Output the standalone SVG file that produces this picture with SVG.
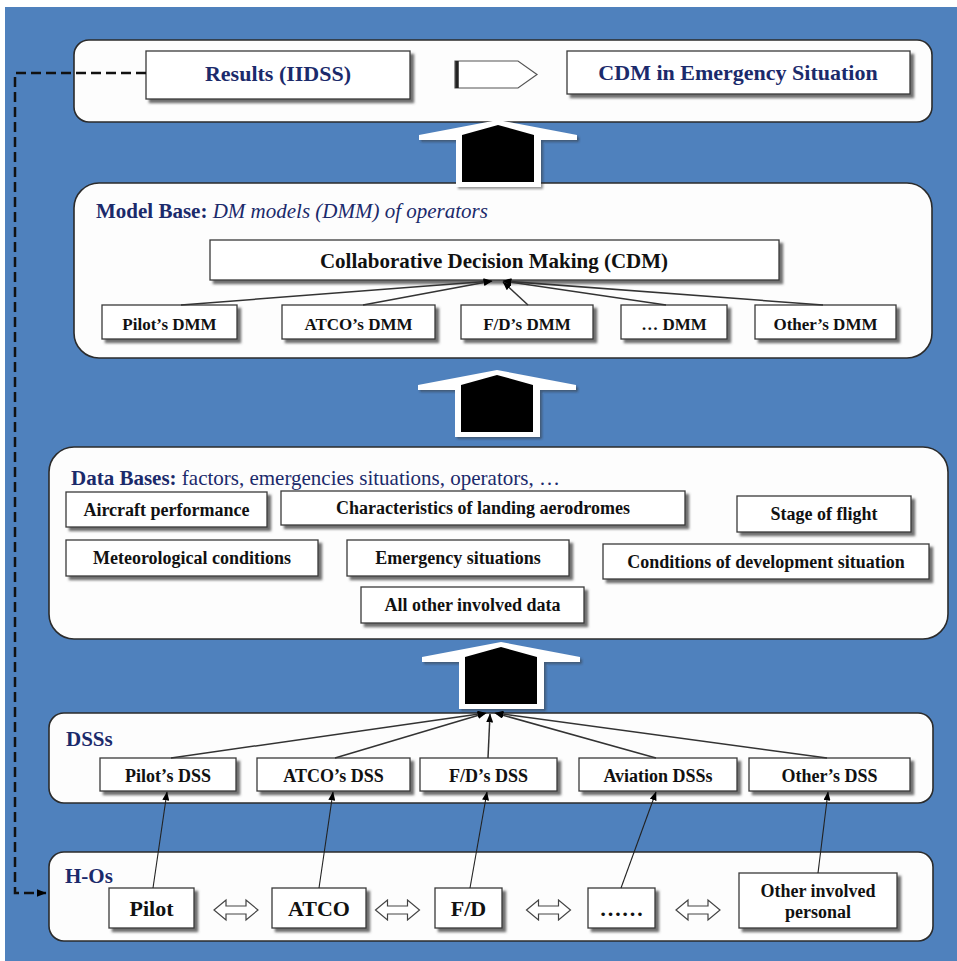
<svg xmlns="http://www.w3.org/2000/svg" width="957" height="961" viewBox="0 0 957 961">
<defs>
<style>
.cont{fill:#fdfdfd;stroke:#2b2b2b;stroke-width:1.6}
.box{fill:#fff;stroke:#3a3a3a;stroke-width:1.3;filter:url(#sh)}
.t{font-family:"Liberation Serif","Times New Roman",serif;font-weight:bold;fill:#111;text-anchor:middle}
.s17{font-size:17px}.s18{font-size:18px}.s21{font-size:21px}.s22{font-size:22px}
.navy{fill:#1b2a6b}
.hd{font-family:"Liberation Serif","Times New Roman",serif;font-size:21px;fill:#1b2a6b}
.ln{fill:none;stroke:#333;stroke-width:1.5}
.lt{fill:none;stroke:#222;stroke-width:1.1}
.dbl{fill:#fff;stroke:#444;stroke-width:1.2}
</style>
<filter id="sh" x="-10%" y="-20%" width="130%" height="160%">
<feDropShadow dx="3.5" dy="3.5" stdDeviation="0.8" flood-color="#555" flood-opacity="0.85"/>
</filter>
<filter id="ash" x="-10%" y="-10%" width="130%" height="130%">
<feDropShadow dx="2" dy="2" stdDeviation="1" flood-color="#333" flood-opacity="0.5"/>
</filter>
<marker id="ah" viewBox="0 0 10 8" refX="9.5" refY="4" markerWidth="9" markerHeight="7" markerUnits="userSpaceOnUse" orient="auto">
<path d="M0,0 L10,4 L0,8 z" fill="#000"/>
</marker>
<marker id="ahd" viewBox="0 0 10 8" refX="9.5" refY="4" markerWidth="10" markerHeight="8" markerUnits="userSpaceOnUse" orient="auto">
<path d="M0,0 L10,4 L0,8 z" fill="#000"/>
</marker>
<g id="bigarrow">
<polygon points="0,0 79,15 79,20 43,20 43,67 -42,67 -42,20 -79,20 -79,15" fill="#fff" filter="url(#ash)"/>
<polygon points="0,5 36,15 36,62 -36,62 -36,15" fill="#000"/>
</g>
<polygon id="dbl" class="dbl" points="0,0 12,-10 12,-4 32,-4 32,-10 44,0 32,10 32,4 12,4 12,10"/>
</defs>

<rect x="0" y="0" width="957" height="961" fill="#fff"/>
<rect x="5" y="7" width="952" height="954" fill="#4F81BD"/>

<!-- containers -->
<g id="top">
<rect class="cont" x="74" y="40" width="858" height="82" rx="15"/>
</g>
<g id="results">
<rect class="box" x="146" y="51" width="264" height="48"/>
<text class="t s22 navy" x="278" y="81">Results (IIDSS)</text>
</g>
<g id="pentagon">
<polygon points="455,61 518,61 537,74.5 518,88 455,88" fill="#fff" stroke="#555" stroke-width="1.2"/>
<line x1="457" y1="61" x2="457" y2="88" stroke="#222" stroke-width="3.5"/>
</g>
<g id="cdm-emergency">
<rect class="box" x="567" y="51" width="343" height="43"/>
<text class="t s22 navy" x="738" y="80">CDM in Emergency Situation</text>
</g>

<g id="modelbase">
<rect class="cont" x="74" y="183" width="858" height="175" rx="25"/>
<text class="hd" x="96" y="218"><tspan font-weight="bold">Model Base: </tspan><tspan font-style="italic">DM models (DMM) of operators</tspan></text>
</g>
<g id="cdm">
<rect class="box" x="210" y="240" width="569" height="40"/>
<text class="t s21" x="494" y="268">Collaborative Decision Making (CDM)</text>
</g>
<g id="dmm-pilot"><rect class="box" x="102" y="305" width="135" height="34"/><text class="t s17" x="169.5" y="330">Pilot’s DMM</text></g>
<g id="dmm-atco"><rect class="box" x="282" y="305" width="153" height="34"/><text class="t s17" x="358.5" y="330">ATCO’s DMM</text></g>
<g id="dmm-fd"><rect class="box" x="461" y="305" width="132" height="34"/><text class="t s17" x="527" y="330">F/D’s DMM</text></g>
<g id="dmm-etc"><rect class="box" x="621" y="305" width="106" height="34"/><text class="t s17" x="674" y="330">… DMM</text></g>
<g id="dmm-other"><rect class="box" x="755" y="305" width="141" height="34"/><text class="t s17" x="825.5" y="330">Other’s DMM</text></g>

<g id="databases">
<rect class="cont" x="49" y="447" width="899" height="192" rx="25"/>
<text class="hd" x="71" y="485"><tspan font-weight="bold">Data Bases: </tspan>factors, emergencies situations, operators, …</text>
</g>
<g id="db-aircraft"><rect class="box" x="66" y="492" width="201" height="35"/><text class="t s18" x="166.5" y="516">Aircraft performance</text></g>
<g id="db-aerodromes"><rect class="box" x="281" y="491" width="404" height="34"/><text class="t s18" x="483" y="514">Characteristics of landing aerodromes</text></g>
<g id="db-stage"><rect class="box" x="737" y="496" width="174" height="36"/><text class="t s18" x="824" y="520">Stage of flight</text></g>
<g id="db-meteo"><rect class="box" x="66" y="540" width="252" height="36"/><text class="t s18" x="192" y="564">Meteorological conditions</text></g>
<g id="db-emergency"><rect class="box" x="347" y="540" width="222" height="36"/><text class="t s18" x="458" y="564">Emergency situations</text></g>
<g id="db-conditions"><rect class="box" x="603" y="544" width="326" height="35"/><text class="t s18" x="766" y="568">Conditions of development situation</text></g>
<g id="db-other"><rect class="box" x="361" y="587" width="223" height="36"/><text class="t s18" x="472.5" y="611">All other involved data</text></g>

<g id="dsss">
<rect class="cont" x="49" y="713" width="884" height="90" rx="15"/>
<text class="hd" x="66" y="746" font-weight="bold">DSSs</text>
</g>
<g id="dss-pilot"><rect class="box" x="100" y="758" width="136" height="33"/><text class="t s18" x="168" y="782">Pilot’s DSS</text></g>
<g id="dss-atco"><rect class="box" x="257" y="758" width="153" height="33"/><text class="t s18" x="333.5" y="782">ATCO’s DSS</text></g>
<g id="dss-fd"><rect class="box" x="420" y="758" width="137" height="33"/><text class="t s18" x="488.5" y="782">F/D’s DSS</text></g>
<g id="dss-aviation"><rect class="box" x="579" y="758" width="158" height="33"/><text class="t s18" x="658" y="782">Aviation DSSs</text></g>
<g id="dss-other"><rect class="box" x="749" y="758" width="161" height="33"/><text class="t s18" x="829.5" y="782">Other’s DSS</text></g>

<g id="hos">
<rect class="cont" x="49" y="852" width="884" height="89" rx="15"/>
<text class="hd" x="65" y="883" font-weight="bold">H-Os</text>
</g>
<g id="ho-pilot"><rect class="box" x="109" y="888" width="85" height="40"/><text class="t s22" x="151.5" y="916">Pilot</text></g>
<g id="ho-atco"><rect class="box" x="272" y="888" width="94" height="40"/><text class="t s22" x="319" y="916">ATCO</text></g>
<g id="ho-fd"><rect class="box" x="435" y="888" width="67" height="40"/><text class="t s22" x="468.5" y="916">F/D</text></g>
<g id="ho-etc"><rect class="box" x="588" y="888" width="67" height="40"/><text class="t s22" x="621.5" y="916">……</text></g>
<g id="ho-other"><rect class="box" x="739" y="873" width="158" height="55"/><text class="t s18" x="818" y="897">Other involved</text><text class="t s18" x="818" y="918">personal</text></g>

<!-- connectors -->
<g id="connectors">
<use href="#bigarrow" x="498" y="120"/>
<use href="#bigarrow" x="497" y="370"/>
<use href="#bigarrow" x="501" y="642"/>

<path d="M146,73 H15 V893 H46" fill="none" stroke="#111" stroke-width="2.5" stroke-dasharray="10,5" marker-end="url(#ahd)"/>

<line class="ln" x1="181" y1="305" x2="492" y2="281" marker-end="url(#ah)"/>
<line class="ln" x1="363" y1="305" x2="492" y2="281" marker-end="url(#ah)"/>
<line class="ln" x1="528" y1="305" x2="503" y2="282" marker-end="url(#ah)"/>
<line class="ln" x1="666" y1="305" x2="503" y2="281" marker-end="url(#ah)"/>
<line class="ln" x1="823" y1="305" x2="503" y2="281" marker-end="url(#ah)"/>

<line class="ln" x1="171" y1="758" x2="486" y2="713" marker-end="url(#ah)"/>
<line class="ln" x1="335" y1="758" x2="486" y2="713" marker-end="url(#ah)"/>
<line class="ln" x1="488" y1="758" x2="490" y2="714" marker-end="url(#ah)"/>
<line class="ln" x1="656" y1="758" x2="495" y2="713" marker-end="url(#ah)"/>
<line class="ln" x1="827" y1="758" x2="495" y2="713" marker-end="url(#ah)"/>

<line class="lt" x1="153" y1="888" x2="167" y2="792" marker-end="url(#ah)"/>
<line class="lt" x1="319" y1="888" x2="333" y2="792" marker-end="url(#ah)"/>
<line class="lt" x1="470" y1="888" x2="487" y2="792" marker-end="url(#ah)"/>
<line class="lt" x1="621" y1="888" x2="656" y2="792" marker-end="url(#ah)"/>
<line class="lt" x1="818" y1="873" x2="828" y2="792" marker-end="url(#ah)"/>

<use href="#dbl" x="214" y="910"/>
<use href="#dbl" x="375.5" y="910"/>
<use href="#dbl" x="526.5" y="910"/>
<use href="#dbl" x="676" y="910"/>
</g>
</svg>
